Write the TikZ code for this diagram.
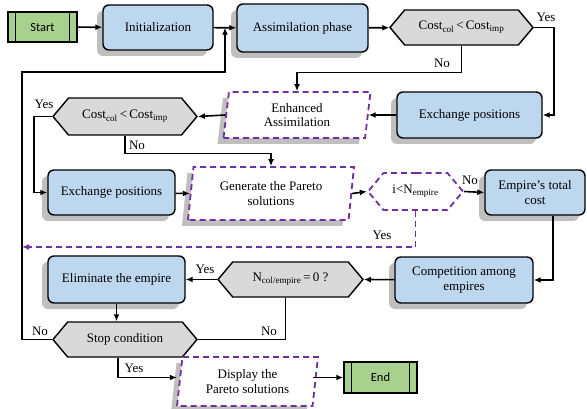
\documentclass[tikz,border=0pt]{standalone}
\usepackage{fontspec}
\setmainfont{Liberation Serif}
\newfontfamily\calib{Carlito}
\usetikzlibrary{shapes.geometric,shapes.symbols,shadows,arrows.meta,calc}

\definecolor{boxblue}{HTML}{BDD7EE}
\definecolor{boxgray}{HTML}{D9D9D9}
\definecolor{boxgreen}{HTML}{A9D18E}
\definecolor{dashpurple}{HTML}{7030A0}
\definecolor{shade}{HTML}{BFBFBF}

\tikzset{
  shade/.style={drop shadow={shadow xshift=-6pt, shadow yshift=-6pt, fill=shade, opacity=1}},
  procbox/.style={draw, line width=1.4pt, rounded corners=6pt, fill=boxblue, align=center, inner sep=0pt, shade},
  termbox/.style={draw, line width=1.4pt, fill=boxgreen, inner sep=0pt, font=\calib\fontsize{12.5}{14}\selectfont},
  testbox/.style={signal, signal to=west and east, signal pointer angle=100, draw, line width=1.4pt, fill=boxgray, inner sep=0pt},
  iobox/.style={trapezium, trapezium left angle=77, trapezium right angle=103, trapezium stretches body, draw=dashpurple, dash pattern=on 6pt off 4pt, line width=1.8pt, fill=white, align=center, inner sep=0pt, shade},
  flow/.style={line width=1.6pt, -{Latex[length=7pt,width=6pt]}},
  link/.style={line width=1.6pt},
  purpleflow/.style={line width=1.8pt, draw=dashpurple, dash pattern=on 6pt off 4pt, -{Latex[length=7pt,width=6pt]}},
  lbl/.style={inner sep=1pt}
}

\begin{document}
\begin{tikzpicture}[x=1pt, y=-1pt, font=\fontsize{13}{14.5}\selectfont]

\def\loopx{22}
\def\looptop{72}
\def\yesrow{247}

\useasboundingbox (0,0) rectangle (587,409);

% first row
\node [termbox, minimum width=69pt, minimum height=30pt] (start) at (42.5,27) {Start};
\node [procbox, minimum width=110pt, minimum height=45pt] (init) at (158,27.5) {Initialization};
\node [procbox, minimum width=131pt, minimum height=48pt] (assim) at (302.5,28) {Assimilation phase};
\node [testbox, minimum width=143pt, minimum height=35pt] (cost1) at (461.5,27.5) {Cost\textsubscript{col}\,<\,Cost\textsubscript{imp}};

% second row
\node [procbox, minimum width=145pt, minimum height=46pt] (xchg1) at (469.5,115) {Exchange positions};
\node [iobox, minimum width=147pt, minimum height=46pt] (enh) at (297,115) {Enhanced\\Assimilation};
\node [testbox, minimum width=144pt, minimum height=37pt] (cost2) at (125,116.5) {Cost\textsubscript{col}\,<\,Cost\textsubscript{imp}};

% third row
\node [procbox, minimum width=127pt, minimum height=45pt] (xchg2) at (111.5,192.5) {Exchange positions};
\node [iobox, minimum width=166pt, minimum height=53pt] (pareto) at (271,193.5) {Generate the Pareto\\solutions};
\node [testbox, draw=dashpurple, dash pattern=on 6pt off 4pt, line width=1.8pt, fill=white, minimum width=95pt, minimum height=37pt] (count) at (415.5,191.5) {i<N\textsubscript{empire}};
\node [procbox, minimum width=100pt, minimum height=45pt] (total) at (535,192.5) {Empire's total\\cost};

% fourth row
\node [procbox, minimum width=138pt, minimum height=46pt] (compete) at (464,280) {Competition among\\empires};
\node [testbox, minimum width=145pt, minimum height=35pt] (ncol) at (290.5,279.5) {N\textsubscript{col/empire}\,=\,0 ?};
\node [procbox, minimum width=137pt, minimum height=47pt] (elim) at (116.5,279.5) {Eliminate the empire};
\node [testbox, minimum width=144pt, minimum height=35pt] (stop) at (125,339.5) {Stop condition};

% last row
\node [iobox, minimum width=141pt, minimum height=49pt] (show) at (247.5,381.5) {Display the\\Pareto solutions};
\node [termbox, minimum width=73pt, minimum height=31pt] (finish) at (380.5,377.5) {End};

% bars of the terminals
\foreach \t in {start,finish} {
  \draw [line width=1.4pt] ([xshift=8pt]\t.north west) -- ([xshift=8pt]\t.south west);
  \draw [line width=1.4pt] ([xshift=-8pt]\t.north east) -- ([xshift=-8pt]\t.south east);
}

% connectors
\coordinate (merge) at ($(init.east)!0.5!(assim.west)$);
\draw [flow] (start) -- (init);
\draw [flow] (init) -- (assim);
\draw [flow] (assim) -- (cost1);
\draw [flow] (cost1.east) -- ++(20,0) |- (xchg1.east);
\draw [flow] (cost1.south) -- ++(0,27) -| (enh.north);
\draw [flow] (xchg1) -- (enh.east);
\draw [flow] (enh.west) -- (cost2.east);
\draw [flow] (cost2.west) -- ++(-18,0) |- (xchg2.west);
\draw [flow] (cost2.south) -- ++(0,18) -| (pareto.north);
\draw [flow] (xchg2) -- (pareto.west);
\draw [flow] (pareto.east) -- (count.west);
\draw [flow] (count.east) -- (total.west);
\draw [purpleflow] (count.south) |- (\loopx,\yesrow);
\draw [flow] ([xshift=18pt]total.south) |- (compete.east);
\draw [flow] (compete) -- (ncol.east);
\draw [flow] (ncol.west) -- (elim.east);
\draw [flow] (elim) -- (stop.north -| elim);
\draw [link] ([xshift=-5pt]ncol.south) |- (stop.east);
\draw [flow] (stop.west) -- (\loopx,339.5) -- (\loopx,\looptop) -| (merge);
\draw [flow] ([xshift=-7pt]stop.south) |- ([xshift=-2pt]show.west |- finish.west);
\draw [flow] ([xshift=-3pt]show.east |- finish.west) -- (finish.west);

% labels
\node [lbl] (yes1) at (546,17) {Yes};
\node [lbl] (no1) at (442,63) {No};
\node [lbl] (yes2) at (44,104) {Yes};
\node [lbl] (no2) at (137,145) {No};
\node [lbl] (no3) at (470,180) {No};
\node [lbl] (yes3) at (382,235) {Yes};
\node [lbl] (yes4) at (205,269) {Yes};
\node [lbl] (no4) at (269,331) {No};
\node [lbl] (no5) at (40,331) {No};
\node [lbl] (yes5) at (134,368) {Yes};

\end{tikzpicture}
\end{document}
